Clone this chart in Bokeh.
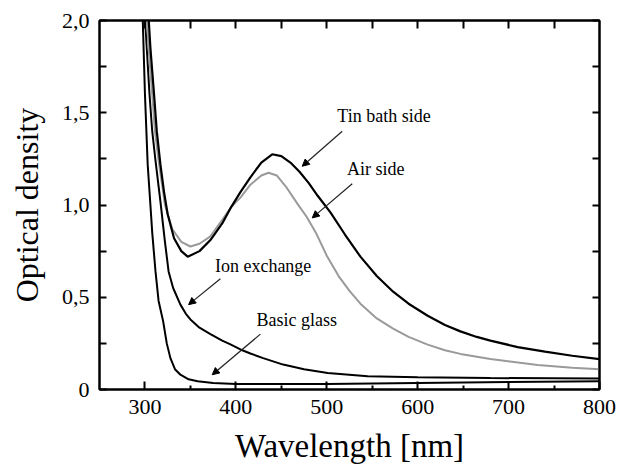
from bokeh.plotting import figure
from bokeh.models import (LinearAxis, FixedTicker, Range1d, Arrow, NormalHead, Label)
from bokeh.embed import file_html
from bokeh.resources import INLINE

# ---- data ----
tin_wl = [303, 306, 310, 313, 317, 321, 325, 332, 340, 347, 360, 372, 385, 395, 405, 416,
          428, 440, 450, 460, 470, 480, 490, 504, 520, 537, 555, 573, 590, 611, 630, 647,
          665, 680, 710, 740, 770, 800]
tin_od = [2.10, 1.85, 1.60, 1.40, 1.22, 1.07, 0.95, 0.82, 0.75, 0.72, 0.75, 0.81, 0.90, 0.99,
          1.07, 1.15, 1.23, 1.275, 1.265, 1.23, 1.18, 1.12, 1.05, 0.96, 0.84, 0.72, 0.615,
          0.53, 0.465, 0.40, 0.35, 0.315, 0.285, 0.265, 0.23, 0.205, 0.183, 0.165]

air_wl = [301, 304, 308, 311, 315, 322, 330, 340, 350, 360, 372, 385, 395, 405, 416, 428,
          436, 445, 455, 468, 478, 488, 500, 513, 525, 537, 555, 573, 590, 611, 630, 647,
          680, 732, 770, 800]
air_od = [2.10, 1.85, 1.60, 1.40, 1.24, 1.00, 0.87, 0.80, 0.775, 0.79, 0.83, 0.92, 0.99,
          1.04, 1.11, 1.16, 1.175, 1.16, 1.10, 1.005, 0.935, 0.85, 0.725, 0.615, 0.535,
          0.465, 0.385, 0.33, 0.285, 0.243, 0.213, 0.193, 0.165, 0.133, 0.118, 0.11]

ion_wl = [299, 302, 305, 308, 311.6, 317, 322, 326, 331, 339, 345, 350, 360, 372, 385, 394,
          405, 416, 430, 452, 475, 501, 545, 600, 680, 800]
ion_od = [2.10, 1.85, 1.60, 1.40, 1.24, 1.02, 0.80, 0.64, 0.55, 0.46, 0.41, 0.38, 0.335,
          0.30, 0.265, 0.245, 0.217, 0.195, 0.17, 0.135, 0.11, 0.09, 0.072, 0.066, 0.062, 0.06]

glass_wl = [297, 300, 303, 306, 308, 311.6, 315, 320, 324, 328, 333, 339, 348, 358, 375, 400,
            500, 600, 700, 800]
glass_od = [2.10, 1.60, 1.22, 1.00, 0.85, 0.64, 0.48, 0.37, 0.25, 0.17, 0.11, 0.08, 0.055,
            0.045, 0.035, 0.03, 0.03, 0.035, 0.04, 0.045]

x_ticks = [300, 400, 500, 600, 700, 800]
x_minor = [350, 450, 550, 650, 750]
x_top_ticks = [300, 350, 400, 450, 500, 550, 600, 650, 700, 750]
y_ticks = [0, 0.5, 1.0, 1.5, 2.0]
y_tick_labels = ["0", "0,5", "1,0", "1,5", "2,0"]
y_minor = [0.25, 0.75, 1.25, 1.75]

labels = ["Tin bath side", "Air side", "Ion exchange", "Basic glass"]
label_x = [563, 554, 430, 467]
label_y = [1.48, 1.195, 0.67, 0.375]
arrow_x0 = [517, 528, 383, 427]
arrow_y0 = [1.40, 1.115, 0.60, 0.30]
arrow_x1 = [473, 484, 348, 374]
arrow_y1 = [1.21, 0.93, 0.46, 0.08]

FONT = "Liberation Serif"

p = figure(width=618, height=468, output_backend="svg", toolbar_location=None,
           x_range=Range1d(250, 800), y_range=Range1d(0, 2.0),
           min_border_left=99, min_border_top=20, min_border_right=19,
           min_border_bottom=79, x_axis_location=None, y_axis_location=None)
p.grid.visible = False
p.outline_line_color = "black"
p.outline_line_width = 2
p.background_fill_color = "white"
p.border_fill_color = "white"

# curves
p.line(glass_wl, glass_od, line_color="black", line_width=2)
p.line(ion_wl, ion_od, line_color="black", line_width=2)
p.line(air_wl, air_od, line_color="#9a9a9a", line_width=2)
p.line(tin_wl, tin_od, line_color="black", line_width=2.2)

# bottom axis
xb = LinearAxis(ticker=FixedTicker(ticks=x_ticks, minor_ticks=x_minor),
                axis_label="Wavelength [nm]")
xb.axis_line_width = 2
xb.major_tick_in = 8
xb.major_tick_out = 0
xb.minor_tick_in = 4
xb.minor_tick_out = 0
xb.major_tick_line_width = 2
xb.minor_tick_line_width = 2
xb.major_label_text_font = FONT
xb.major_label_text_font_size = "22px"
xb.major_label_text_color = "black"
xb.major_label_standoff = 10
xb.axis_label_text_font = FONT
xb.axis_label_text_font_size = "33px"
xb.axis_label_text_font_style = "normal"
xb.axis_label_text_color = "black"
xb.axis_label_standoff = 11
p.add_layout(xb, "below")

# left axis
yl = LinearAxis(ticker=FixedTicker(ticks=y_ticks, minor_ticks=y_minor),
                axis_label="Optical density")
yl.major_label_overrides = {t: s for t, s in zip(y_ticks, y_tick_labels)}
yl.axis_line_width = 2
yl.major_tick_in = 7
yl.major_tick_out = 0
yl.minor_tick_in = 7
yl.minor_tick_out = 0
yl.major_tick_line_width = 2
yl.minor_tick_line_width = 2
yl.major_label_text_font = FONT
yl.major_label_text_font_size = "22px"
yl.major_label_text_color = "black"
yl.major_label_standoff = 10
yl.axis_label_text_font = FONT
yl.axis_label_text_font_size = "32px"
yl.axis_label_text_font_style = "normal"
yl.axis_label_text_color = "black"
yl.axis_label_standoff = 14
p.add_layout(yl, "left")

# top axis (ticks only)
xt = LinearAxis(ticker=FixedTicker(ticks=x_top_ticks, minor_ticks=[]))
xt.axis_line_width = 2
xt.major_tick_in = 8
xt.major_tick_out = 0
xt.major_tick_line_width = 2
xt.major_label_text_font_size = "0px"
xt.major_label_text_color = None
xt.major_label_standoff = 0
p.add_layout(xt, "above")

# right axis (ticks only)
yr = LinearAxis(ticker=FixedTicker(ticks=y_ticks + y_minor, minor_ticks=[]))
yr.axis_line_width = 2
yr.major_tick_in = 7
yr.major_tick_out = 0
yr.major_tick_line_width = 2
yr.major_label_text_font_size = "0px"
yr.major_label_text_color = None
yr.major_label_standoff = 0
p.add_layout(yr, "right")

# annotations
for i in range(len(labels)):
    p.add_layout(Arrow(end=NormalHead(size=7, fill_color="black", line_color="black",
                                      line_width=1),
                       x_start=arrow_x0[i], y_start=arrow_y0[i],
                       x_end=arrow_x1[i], y_end=arrow_y1[i],
                       line_color="#222222", line_width=1.2))
    p.add_layout(Label(x=label_x[i], y=label_y[i], text=labels[i],
                       text_font=FONT, text_font_size="18px", text_color="black",
                       text_align="center", text_baseline="middle"))

open("out.html", "w").write(file_html(p, INLINE))
